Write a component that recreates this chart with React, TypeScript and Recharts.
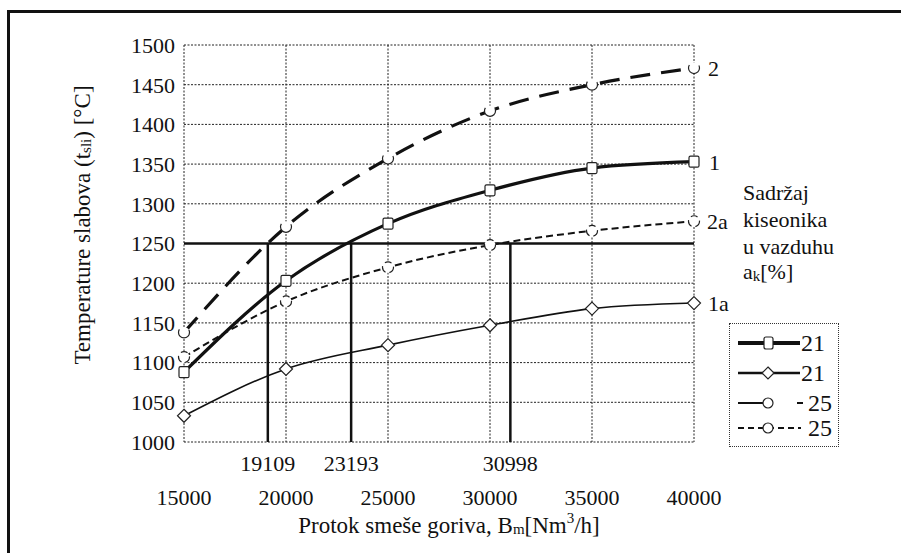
import React from 'react';
import {
  LineChart, Line, XAxis, YAxis, CartesianGrid, ReferenceLine, Legend, LabelList,
} from 'recharts';

const FONT = "'Liberation Serif', 'DejaVu Serif', 'Times New Roman', Times, serif";

const xValues = [15000, 20000, 25000, 30000, 35000, 40000];
// curve 1 : 21 % (thick solid, squares)
const series1 = [1088, 1203, 1275, 1317, 1345, 1353];
// curve 1a : 21 % (thin solid, diamonds)
const series1a = [1033, 1092, 1122, 1147, 1168, 1175];
// curve 2 : 25 % (long dashes, circles)
const series2 = [1138, 1271, 1357, 1417, 1450, 1471];
// curve 2a : 25 % (short dashes, circles)
const series2a = [1107, 1177, 1220, 1248, 1266, 1278];

const endLabels = { s1: '1', s1a: '1a', s2: '2', s2a: '2a' };
const yTicks = [1000, 1050, 1100, 1150, 1200, 1250, 1300, 1350, 1400, 1450, 1500];
const limitTemp = 1250;
const markX = [19109, 23193, 30998];
const legendLabels = ['21', '21', '25', '25'];

const last = xValues.length - 1;
const data = xValues.map((x, i) => ({
  x,
  s1: series1[i],
  s1a: series1a[i],
  s2: series2[i],
  s2a: series2a[i],
  l1: i === last ? endLabels.s1 : undefined,
  l1a: i === last ? endLabels.s1a : undefined,
  l2: i === last ? endLabels.s2 : undefined,
  l2a: i === last ? endLabels.s2a : undefined,
}));

const SquareDot = (p: any) => (
  <rect key={`sq-${p.index}`} x={p.cx - 5} y={p.cy - 5.5} width={10} height={11} rx={1.5}
    fill="#fff" stroke="#222" strokeWidth={1.2} />
);
const DiamondDot = (p: any) => (
  <polygon key={`dm-${p.index}`}
    points={`${p.cx},${p.cy - 6.5} ${p.cx + 6.5},${p.cy} ${p.cx},${p.cy + 6.5} ${p.cx - 6.5},${p.cy}`}
    fill="#fff" stroke="#222" strokeWidth={1.2} />
);
const circleDot = { r: 5.5, fill: '#fff', stroke: '#222', strokeWidth: 1.2 };

const endLabelStyle = { fill: '#111', fontSize: 22, fontFamily: FONT };

const LegendBox = () => {
  const rows = [20, 50, 80, 105];
  return (
    <div style={{ width: 110, height: 124, border: '1px dotted #333', boxSizing: 'border-box', position: 'relative' }}>
      <svg width={110} height={124} style={{ position: 'absolute', left: -1, top: -1 }}>
        <line x1={9} x2={71} y1={rows[0]} y2={rows[0]} stroke="#111" strokeWidth={4} />
        <rect x={35} y={rows[0] - 6} width={9} height={12} rx={2} fill="#fff" stroke="#222" strokeWidth={1.2} />
        <line x1={9} x2={71} y1={rows[1]} y2={rows[1]} stroke="#111" strokeWidth={2.5} />
        <polygon points={`39,${rows[1] - 6} 45,${rows[1]} 39,${rows[1] + 6} 33,${rows[1]}`} fill="#fff" stroke="#222" strokeWidth={1.2} />
        <line x1={9} x2={34} y1={rows[2]} y2={rows[2]} stroke="#111" strokeWidth={2} />
        <line x1={68} x2={74} y1={rows[2]} y2={rows[2]} stroke="#111" strokeWidth={2} />
        <circle cx={39} cy={rows[2]} r={5} fill="#fff" stroke="#222" strokeWidth={1.2} />
        <line x1={9} x2={72} y1={rows[3]} y2={rows[3]} stroke="#111" strokeWidth={2} strokeDasharray="6 4" />
        <circle cx={39} cy={rows[3]} r={5} fill="#fff" stroke="#222" strokeWidth={1.2} />
        {rows.map((ry, i) => (
          <text key={i} x={i < 2 ? 72 : 79} y={ry} dominantBaseline="central" fontSize={24} fontFamily={FONT} fill="#111">
            {legendLabels[i]}
          </text>
        ))}
      </svg>
    </div>
  );
};

export default function App() {
  return (
    <div style={{ position: 'absolute', left: 0, top: 0, width: 901, height: 553, overflow: 'hidden', background: '#fff', fontFamily: FONT }}>
      <div style={{ position: 'absolute', left: 7, top: 10, width: 960, height: 600, borderTop: '3px solid #111', borderLeft: '3px solid #111' }} />
      <div style={{ position: 'absolute', left: 0, top: 0 }}>
        <LineChart width={901} height={553} data={data} margin={{ top: 45, right: 207, bottom: 0, left: 0 }}
          style={{ fontFamily: FONT }}>
          <CartesianGrid stroke="#222" strokeDasharray="2 1.5" strokeWidth={1} />
          <XAxis dataKey="x" type="number" domain={[15000, 40000]} ticks={xValues} axisLine={false}
            tickLine={false} tickSize={0} tickMargin={47} height={111} interval={0}
            tick={{ fill: '#111', fontSize: 22, fontFamily: FONT }} />
          <YAxis type="number" domain={[1000, 1500]} ticks={yTicks} axisLine={false} tickLine={false}
            tickSize={0} tickMargin={9} width={184} interval={0}
            tick={{ fill: '#111', fontSize: 22, fontFamily: FONT }} />
          <ReferenceLine y={limitTemp} stroke="#111" strokeWidth={2.5} />
          {markX.map((mx) => (
            <ReferenceLine key={mx} segment={[{ x: mx, y: 1000 }, { x: mx, y: limitTemp }]} stroke="#111" strokeWidth={2.5}
              label={{ value: String(mx), position: 'bottom', offset: 13, fill: '#111', fontSize: 22, fontFamily: FONT }} />
          ))}
          <Line type="monotone" dataKey="s1a" stroke="#111" strokeWidth={1.6} dot={DiamondDot} isAnimationActive={false}>
            <LabelList dataKey="l1a" position="right" offset={14} style={endLabelStyle} />
          </Line>
          <Line type="monotone" dataKey="s2a" stroke="#111" strokeWidth={2} strokeDasharray="7 4" dot={circleDot} isAnimationActive={false}>
            <LabelList dataKey="l2a" position="right" offset={13} style={endLabelStyle} />
          </Line>
          <Line type="monotone" dataKey="s1" stroke="#111" strokeWidth={3.2} dot={SquareDot} isAnimationActive={false}>
            <LabelList dataKey="l1" position="right" offset={15} style={endLabelStyle} />
          </Line>
          <Line type="monotone" dataKey="s2" stroke="#111" strokeWidth={3.2} strokeDasharray="20 11" dot={circleDot} isAnimationActive={false}>
            <LabelList dataKey="l2" position="right" offset={14} style={endLabelStyle} />
          </Line>
          <Legend layout="horizontal" verticalAlign="middle" align="center" content={() => <LegendBox />}
            wrapperStyle={{ left: 729, top: 323, width: 110, height: 124 }} />
        </LineChart>
      </div>
      <svg width={901} height={553} style={{ position: 'absolute', left: 0, top: 0, pointerEvents: 'none' }}>
        <text x={82} y={225} transform="rotate(-90, 82, 225)" textAnchor="middle" dominantBaseline="central"
          fontSize={23} fontFamily={FONT} fill="#111">
          Temperature slabova (t<tspan fontSize={15} dy={4}>sli</tspan><tspan dy={-4}>) [°C]</tspan>
        </text>
        <text x={449} y={525} textAnchor="middle" dominantBaseline="central" fontSize={23} fontFamily={FONT} fill="#111">
          Protok smeše goriva, B<tspan fontSize={15} dy={4}>m</tspan><tspan dy={-4}>[Nm</tspan><tspan fontSize={15} dy={-7}>3</tspan><tspan dy={7}>/h]</tspan>
        </text>
        <g fontSize={22} fontFamily={FONT} fill="#111">
          <text x={743} y={192} dominantBaseline="central">Sadržaj</text>
          <text x={743} y={219} dominantBaseline="central">kiseonika</text>
          <text x={743} y={246} dominantBaseline="central">u vazduhu</text>
          <text x={743} y={271} dominantBaseline="central">a<tspan fontSize={15} dy={5}>k</tspan><tspan dy={-5}>[%]</tspan></text>
        </g>
      </svg>
    </div>
  );
}
